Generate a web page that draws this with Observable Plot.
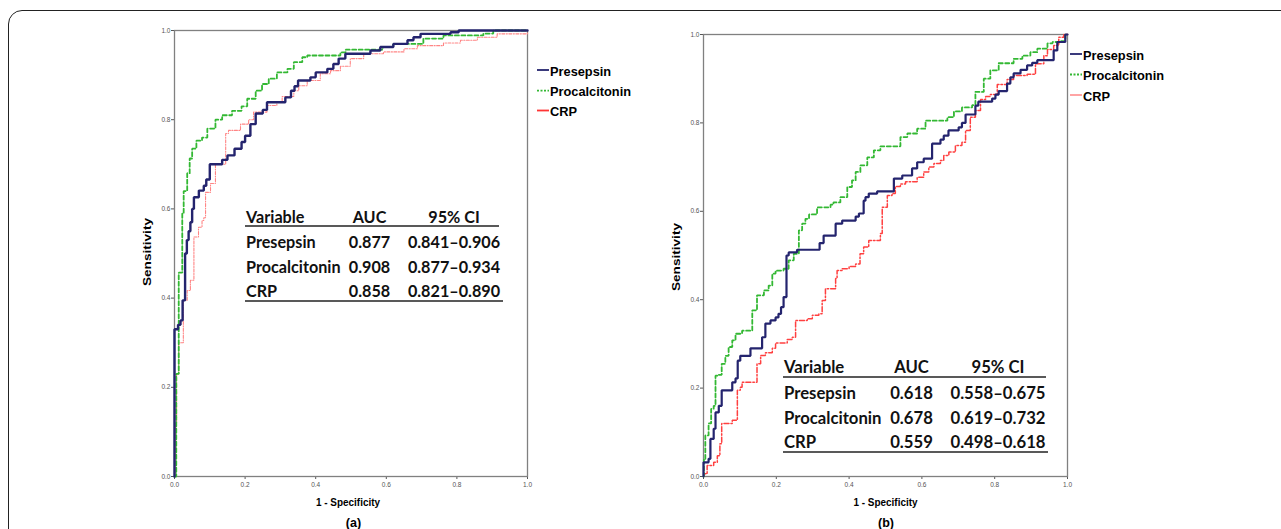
<!DOCTYPE html>
<html><head><meta charset="utf-8">
<script src="https://cdn.jsdelivr.net/npm/d3@7"></script>
<script src="https://cdn.jsdelivr.net/npm/@observablehq/plot@0.6"></script>
<style>
body{margin:0;background:#fff;}
#wrap{position:relative;width:1281px;height:529px;overflow:hidden;background:#fff;}
#border{position:absolute;left:8px;top:10px;width:1320px;height:620px;border:1.5px solid #222;border-radius:14px;}
.panel{position:absolute;top:0;}
#overlay{position:absolute;left:0;top:0;pointer-events:none;}
</style></head><body><div id="wrap"><div id="border"></div></div>
<script>
// ---------- DATA ----------
const seriesNames = ["Presepsin", "Procalcitonin", "CRP"];
const axisTicks = [0, 0.2, 0.4, 0.6, 0.8, 1.0];
const xLabel = "1 - Specificity";
const yLabel = "Sensitivity";
const panelLabels = ["(a)", "(b)"];
const tableHeader = ["Variable", "AUC", "95% CI"];

// panel (a) ROC points [1-specificity, sensitivity]
const aPresepsin = [[0,0],[0,0.33],[0.01,0.34],[0.017,0.35],[0.023,0.395],[0.03,0.50],[0.035,0.53],[0.04,0.55],[0.045,0.57],[0.05,0.60],[0.055,0.626],[0.069,0.641],[0.083,0.652],[0.09,0.666],[0.1,0.70],[0.135,0.71],[0.15,0.72],[0.17,0.735],[0.19,0.75],[0.2,0.764],[0.215,0.79],[0.23,0.814],[0.25,0.822],[0.262,0.839],[0.314,0.85],[0.33,0.865],[0.34,0.875],[0.35,0.888],[0.385,0.895],[0.40,0.906],[0.433,0.914],[0.45,0.925],[0.465,0.937],[0.484,0.948],[0.555,0.955],[0.583,0.963],[0.62,0.97],[0.66,0.978],[0.677,0.985],[0.697,0.9925],[0.782,0.996],[0.805,1],[1,1]];
const aProcalcitonin = [[0,0],[0.005,0.16],[0.005,0.23],[0.012,0.457],[0.022,0.59],[0.026,0.64],[0.036,0.68],[0.043,0.713],[0.05,0.735],[0.062,0.753],[0.078,0.76],[0.093,0.78],[0.116,0.80],[0.135,0.81],[0.163,0.82],[0.19,0.83],[0.206,0.847],[0.23,0.865],[0.248,0.88],[0.267,0.892],[0.29,0.906],[0.32,0.914],[0.338,0.929],[0.362,0.94],[0.376,0.944],[0.47,0.951],[0.485,0.957],[0.59,0.963],[0.62,0.97],[0.705,0.982],[0.762,0.989],[0.875,0.993],[0.903,1],[1,1]];
const aCRP = [[0,0],[0.003,0.118],[0.006,0.23],[0.012,0.30],[0.025,0.395],[0.036,0.417],[0.045,0.44],[0.055,0.537],[0.068,0.559],[0.078,0.574],[0.083,0.58],[0.088,0.637],[0.102,0.657],[0.116,0.70],[0.145,0.769],[0.153,0.776],[0.187,0.79],[0.21,0.80],[0.224,0.817],[0.262,0.832],[0.29,0.839],[0.305,0.852],[0.338,0.865],[0.352,0.876],[0.376,0.888],[0.413,0.903],[0.442,0.91],[0.47,0.92],[0.498,0.937],[0.536,0.948],[0.592,0.952],[0.65,0.959],[0.688,0.966],[0.762,0.972],[0.81,0.978],[0.858,0.985],[0.914,0.9925],[1,0.995]];
const aAUC = ["0.877", "0.908", "0.858"];
const aCI = ["0.841–0.906", "0.877–0.934", "0.821–0.890"];

// panel (b)
const bPresepsin = [[0,0],[0,0.032],[0.014,0.04],[0.019,0.085],[0.028,0.108],[0.033,0.145],[0.042,0.16],[0.05,0.195],[0.079,0.213],[0.088,0.222],[0.094,0.262],[0.101,0.273],[0.129,0.29],[0.161,0.315],[0.17,0.346],[0.184,0.353],[0.198,0.36],[0.206,0.368],[0.213,0.383],[0.22,0.406],[0.228,0.5],[0.234,0.507],[0.257,0.513],[0.319,0.528],[0.33,0.545],[0.363,0.572],[0.381,0.579],[0.418,0.588],[0.427,0.595],[0.44,0.624],[0.445,0.632],[0.454,0.64],[0.477,0.645],[0.523,0.674],[0.546,0.681],[0.573,0.697],[0.587,0.711],[0.605,0.719],[0.628,0.753],[0.651,0.762],[0.66,0.771],[0.673,0.783],[0.701,0.79],[0.71,0.80],[0.72,0.819],[0.747,0.839],[0.755,0.848],[0.793,0.855],[0.802,0.864],[0.811,0.872],[0.834,0.889],[0.843,0.903],[0.852,0.912],[0.871,0.92],[0.889,0.93],[0.903,0.936],[0.917,0.942],[0.962,0.964],[0.972,0.983],[0.994,1],[1,1]];
const bProcalcitonin = [[0,0],[0.001,0.04],[0.005,0.093],[0.014,0.12],[0.021,0.153],[0.028,0.16],[0.033,0.228],[0.042,0.23],[0.05,0.255],[0.06,0.273],[0.069,0.293],[0.079,0.308],[0.088,0.323],[0.106,0.33],[0.134,0.376],[0.147,0.41],[0.166,0.421],[0.179,0.432],[0.189,0.459],[0.198,0.466],[0.22,0.47],[0.234,0.489],[0.248,0.504],[0.262,0.557],[0.271,0.572],[0.28,0.583],[0.29,0.593],[0.312,0.609],[0.349,0.615],[0.357,0.62],[0.376,0.632],[0.395,0.655],[0.408,0.67],[0.418,0.689],[0.431,0.704],[0.45,0.722],[0.468,0.738],[0.486,0.747],[0.541,0.768],[0.56,0.776],[0.587,0.787],[0.61,0.805],[0.67,0.813],[0.688,0.826],[0.71,0.835],[0.738,0.84],[0.747,0.87],[0.77,0.90],[0.788,0.919],[0.811,0.935],[0.852,0.945],[0.876,0.952],[0.898,0.96],[0.917,0.968],[0.945,0.98],[0.959,0.983],[0.979,0.985],[0.994,1],[1,1]];
const bCRP = [[0,0],[0.001,0.006],[0.01,0.025],[0.028,0.032],[0.038,0.047],[0.045,0.074],[0.05,0.12],[0.079,0.127],[0.093,0.195],[0.101,0.202],[0.106,0.213],[0.147,0.255],[0.157,0.274],[0.17,0.28],[0.189,0.29],[0.198,0.302],[0.23,0.31],[0.244,0.315],[0.253,0.353],[0.285,0.357],[0.299,0.365],[0.317,0.368],[0.326,0.398],[0.335,0.425],[0.363,0.448],[0.367,0.466],[0.381,0.47],[0.4,0.475],[0.418,0.481],[0.43,0.504],[0.44,0.519],[0.454,0.534],[0.486,0.55],[0.491,0.609],[0.505,0.636],[0.518,0.64],[0.527,0.656],[0.541,0.662],[0.555,0.667],[0.587,0.677],[0.605,0.689],[0.619,0.70],[0.633,0.708],[0.651,0.715],[0.66,0.726],[0.674,0.734],[0.692,0.749],[0.71,0.756],[0.72,0.783],[0.733,0.813],[0.747,0.828],[0.761,0.853],[0.775,0.86],[0.788,0.864],[0.807,0.887],[0.834,0.898],[0.852,0.907],[0.889,0.91],[0.912,0.934],[0.935,0.952],[0.945,0.966],[0.962,0.975],[0.976,0.994],[0.99,1],[1,1]];
const bAUC = ["0.618", "0.678", "0.559"];
const bCI = ["0.558–0.675", "0.619–0.732", "0.498–0.618"];

// ---------- STYLES ----------
const lineStylesA = [
  {stroke:"#24246e", strokeWidth:2.4, dash:null},
  {stroke:"#33b833", strokeWidth:1.8, dash:"4,2.5"},
  {stroke:"#ff8585", strokeWidth:1.1, dash:"3,1.5,1,1.5"}
];
const lineStylesB = [
  {stroke:"#24246e", strokeWidth:2.2, dash:null},
  {stroke:"#33b833", strokeWidth:1.8, dash:"4,2.5"},
  {stroke:"#ff4040", strokeWidth:1.5, dash:"5,2,1.5,2"}
];

const wrap = document.getElementById("wrap");

function makePanel(series, styles, g) {
  const marks = [
    Plot.axisX({ticks: axisTicks, tickFormat: d3.format(".1f"), tickSize: 3, tickPadding: 3, fontSize: 6.5, label: null, color: "#555"}),
    Plot.axisY({ticks: axisTicks, tickFormat: d3.format(".1f"), tickSize: 3, tickPadding: 1, fontSize: 6.5, label: null, color: "#555"}),
    Plot.frame({stroke: "#808080", strokeWidth: 1.3})
  ];
  [2, 1, 0].forEach(i => {
    const s = series[i];
    marks.push(Plot.line(s.map(([x, y]) => ({x, y})), {
      x: "x", y: "y", curve: "step-after",
      stroke: styles[i].stroke, strokeWidth: styles[i].strokeWidth,
      strokeDasharray: styles[i].dash, strokeLinejoin: "miter"
    }));
  });
  const svg = Plot.plot({
    width: g.width, height: 529,
    marginLeft: g.ml, marginRight: g.mr, marginTop: g.mt, marginBottom: g.mb,
    x: {domain: [0, 1]}, y: {domain: [0, 1]},
    style: {background: "transparent", fontFamily: "Liberation Sans, Arial, sans-serif"},
    marks
  });
  svg.classList.add("panel");
  svg.style.left = g.left + "px";
  wrap.appendChild(svg);
}

makePanel([aPresepsin, aProcalcitonin, aCRP], lineStylesA, {left: 120, width: 430, ml: 54, mr: 23, mt: 30, mb: 53});
makePanel([bPresepsin, bProcalcitonin, bCRP], lineStylesB, {left: 650, width: 437, ml: 53, mr: 20, mt: 34, mb: 53});

// ---------- OVERLAY: labels, legends, tables ----------
const ov = d3.select(wrap).append("svg").attr("id", "overlay").attr("width", 1281).attr("height", 529);
const sansB = "Liberation Sans, Arial, sans-serif";

function axisLabels(cx, cy, xlx, xly) {
  ov.append("text").attr("transform", `translate(${cx},${cy}) rotate(-90)`)
    .attr("text-anchor", "middle").attr("dy", "0.35em")
    .attr("font-family", sansB).attr("font-weight", "bold").attr("font-size", 10.5)
    .attr("textLength", 68).attr("lengthAdjust", "spacingAndGlyphs").text(yLabel);
  ov.append("text").attr("x", xlx).attr("y", xly).attr("text-anchor", "middle")
    .attr("font-family", sansB).attr("font-weight", "bold").attr("font-size", 10.5)
    .attr("textLength", 64).attr("lengthAdjust", "spacingAndGlyphs").text(xLabel);
}
axisLabels(147, 252, 348, 506);
axisLabels(676.5, 257, 885.5, 506);
ov.append("text").attr("x", 353.5).attr("y", 527).attr("text-anchor", "middle")
  .attr("font-family", sansB).attr("font-weight", "bold").attr("font-size", 12.5).text(panelLabels[0]);
ov.append("text").attr("x", 886).attr("y", 527).attr("text-anchor", "middle")
  .attr("font-family", sansB).attr("font-weight", "bold").attr("font-size", 12.5).text(panelLabels[1]);

function legend(x, ys, colors, dashes) {
  seriesNames.forEach((n, i) => {
    ov.append("line").attr("x1", x).attr("x2", x + 12).attr("y1", ys[i]).attr("y2", ys[i])
      .attr("stroke", colors[i]).attr("stroke-width", 1.8).attr("stroke-dasharray", dashes[i]);
    ov.append("text").attr("x", x + 13).attr("y", ys[i] + 5.5)
      .attr("font-family", sansB).attr("font-weight", "bold").attr("font-size", 12.8).text(n);
  });
}
legend(537, [70, 90.7, 110.5], ["#24246e", "#33b833", "#ff3535"], [null, "2,1.5", null]);
legend(1070, [54, 74.5, 95], ["#24246e", "#33b833", "#ff9a9a"], [null, "2,1.5", null]);

function table(t) {
  const f = "Lato, sans-serif";
  const row = (y, cells, w) => {
    ov.append("text").attr("x", t.c1).attr("y", y).attr("font-family", f).attr("font-weight", w).attr("font-size", t.fs).attr("fill", "#111").text(cells[0]);
    ov.append("text").attr("x", t.c2).attr("y", y).attr("text-anchor", "middle").attr("font-family", f).attr("font-weight", w).attr("font-size", t.fs).attr("fill", "#111").text(cells[1]);
    ov.append("text").attr("x", t.c3).attr("y", y).attr("text-anchor", "middle").attr("font-family", f).attr("font-weight", w).attr("font-size", t.fs).attr("fill", "#111").text(cells[2]);
  };
  row(t.yh, tableHeader, 700);
  seriesNames.forEach((n, i) => row(t.rows[i], [n, t.auc[i], t.ci[i]], 700));
  ov.append("line").attr("x1", t.x0).attr("x2", t.x1).attr("y1", t.l1).attr("y2", t.l1).attr("stroke", "#222").attr("stroke-width", 1.4);
  ov.append("line").attr("x1", t.x0).attr("x2", t.x2).attr("y1", t.l2).attr("y2", t.l2).attr("stroke", "#222").attr("stroke-width", 1.4);
}
table({c1: 246, c2: 369.5, c3: 454, fs: 16.2, yh: 222.5, rows: [248, 272.5, 296.5], auc: aAUC, ci: aCI, x0: 245, x1: 499, x2: 503, l1: 226, l2: 301});
table({c1: 784, c2: 911.5, c3: 998, fs: 16.7, yh: 373, rows: [399.3, 424, 448.3], auc: bAUC, ci: bCI, x0: 783, x1: 1046, x2: 1048, l1: 377, l2: 452});
</script></body></html>
